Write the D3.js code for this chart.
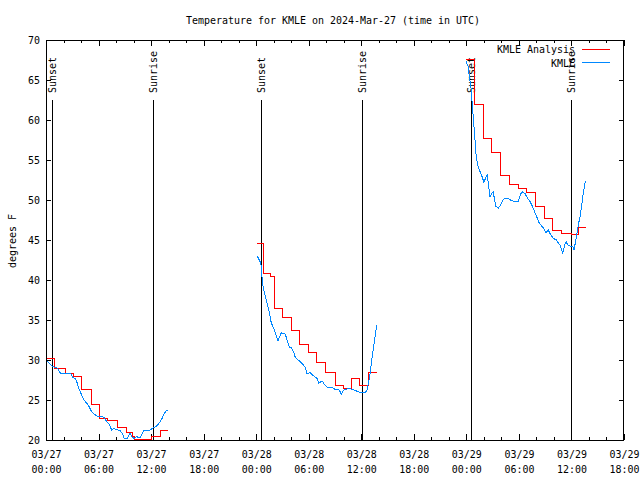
<!DOCTYPE html>
<html><head><meta charset="utf-8">
<script src="https://cdn.jsdelivr.net/npm/d3@7"></script>
<style>html,body{margin:0;padding:0;background:#fff}</style>
</head><body>
<svg id="chart" width="640" height="480"></svg>
<script>
// ---- data (hours after 2024-03-27 00:00 UTC, null = gap) ----
const obsHours = [0.08,0.46,0.72,1.03,1.29,1.68,2.82,3.00,3.31,3.51,3.80,4.08,4.34,4.65,4.91,5.22,5.48,5.79,6.36,6.66,6.93,7.19,7.50,7.76,7.99,8.45,8.71,8.94,9.28,9.59,9.82,10.05,10.36,10.73,11.19,11.88,12.25,12.64,12.90,13.21,13.47,13.70,13.90, null,
 24.13,24.44,24.55,24.66,24.81,25.01,25.20,25.43,25.73,26.00,26.26,26.49,26.75,26.87,27.32,27.58,27.78,28.03,28.28,28.47,29.04,29.61,29.80,30.18,30.57,30.94,31.14,31.52,31.82,32.09,32.66,33.03,33.49,33.72,33.99,34.56,35.32,35.89,36.46,36.65,36.85,37.03,37.22,37.42,37.60,37.77, null,
 47.96,48.22,48.34,48.50,48.61,48.72,48.87,48.99,49.10,49.25,49.48,49.67,49.86,50.01,50.24,50.39,50.50,50.70,50.89,51.08,51.19,51.38,51.65,51.92,52.22,52.41,52.79,53.18,53.55,53.93,54.20,54.43,54.70,54.89,55.27,55.46,55.72,56.03,56.33,56.60,56.79,57.09,57.36,57.55,57.93,58.31,58.50,58.69,58.89,59.00,59.18,59.38,59.57,59.95,60.14,60.29,60.40,60.60,60.78,60.98,61.17,61.35,61.55,61.63];
const obsTempF = [29.9,29.5,29.2,29.1,29.0,28.3,28.3,27.9,27.7,27.3,26.3,25.6,25.0,24.6,24.2,23.5,23.25,23.0,23.0,22.8,22.3,22.0,21.25,21.5,21.3,21.2,20.8,20.2,20.2,20.8,20.4,20.2,20.4,20.3,21.25,21.25,21.5,21.75,22.1,22.6,23.25,23.6,23.75, null,
 43.0,42.3,41.9,40.4,39.0,38.1,37.3,36.3,34.6,34.0,33.1,32.4,33.1,33.4,33.25,32.3,31.6,31.5,31.0,30.3,29.8,29.1,28.3,28.4,28.0,27.7,27.1,27.4,26.9,26.6,26.6,26.3,26.25,25.75,26.25,26.46,26.2,25.9,25.9,26.25,27.3,28.5,30.2,31.7,33.1,34.4, null,
 67.3,66.7,65.4,64.4,62.9,61.25,59.2,57.5,55.8,54.6,53.75,53.3,52.7,52.2,52.9,53.1,52.1,50.4,50.8,51.0,50.2,49.2,48.96,49.4,50.1,50.2,50.2,49.9,49.8,49.8,50.8,51.0,50.8,50.4,49.8,49.4,48.75,47.9,47.1,46.75,46.5,45.9,46.25,45.8,45.2,45.0,44.6,44.4,43.8,43.25,44.2,44.8,44.4,44.2,44.2,43.75,44.4,45.6,46.9,47.9,49.4,50.8,52.1,52.3];

const anaHours = [0.15,0.97,2.17,3.12,4.03,5.14,6.09,6.97,8.14,9.21,9.93,10.16,12.1,13.05,13.9, null,
 24.09,24.86,25.69,26.09,26.98,27.98,29.0,29.92,30.94,31.97,33.0,33.95,34.94,35.85,36.88,37.76, null,
 47.96,48.93,49.93,50.92,51.92,52.92,53.93,54.89,55.89,56.92,57.83,58.88,59.95,60.80,61.66];
const anaTempF = [30.2,29.0,28.3,28.0,26.3,24.4,22.7,22.4,21.6,21.0,20.4,20.1,20.5,21.25,21.25, null,
 44.6,40.8,40.4,36.5,35.3,33.75,32.0,30.9,29.7,28.5,26.8,26.5,27.7,26.8,28.5,28.5, null,
 67.6,61.9,57.7,56.0,53.1,52.0,51.5,51.0,49.25,47.7,46.25,45.8,45.7,46.6,46.6];

const sunHours = [0.72, 12.25, 24.58, 36.12, 48.49, 59.98];
const sunLabels = ["Sunset","Sunrise","Sunset","Sunrise","Sunset","Sunrise"];

const yTicks = [20,25,30,35,40,45,50,55,60,65,70];
const seriesNames = ["KMLE Analysis","KMLE"];
const titleText = "Temperature for KMLE on 2024-Mar-27 (time in UTC)";
const yTitle = "degrees F";

// ---- setup ----
const T0 = Date.UTC(2024,2,27);
const toDate = h => new Date(T0 + h*3600e3);
const L=46, R=624, T=40, B=440;
const FONT = "DejaVu Sans Mono";
const RED = "#ff0000", BLUE = "#0088ff";

const svg = d3.select("#chart");
const x = d3.scaleUtc().domain([toDate(0), toDate(66)]).range([L,R]);
const y = d3.scaleLinear().domain([20,70]).range([B,T]);

const minorTicks = d3.range(0,67,2).map(toDate);
const majorTicks = d3.range(0,67,6).map(toDate);

function styleAxis(g){ g.select(".domain").remove(); g.attr("font-family",FONT).attr("font-size",11); g.selectAll("line").attr("stroke","#000").attr("shape-rendering","crispEdges"); }

// minor ticks
svg.append("g").attr("transform",`translate(0,${B})`).call(d3.axisBottom(x).tickValues(minorTicks).tickSizeInner(-3).tickSizeOuter(0).tickFormat("")).call(styleAxis);
svg.append("g").attr("transform",`translate(0,${T})`).call(d3.axisTop(x).tickValues(minorTicks).tickSizeInner(-3).tickSizeOuter(0).tickFormat("")).call(styleAxis);
// major ticks bottom with labels
const gB = svg.append("g").attr("transform",`translate(0,${B})`)
  .call(d3.axisBottom(x).tickValues(majorTicks).tickSizeInner(-6).tickSizeOuter(0).tickPadding(0).tickFormat(d3.utcFormat("%m/%d")))
  .call(styleAxis);
gB.selectAll(".tick text").attr("y",18).attr("dy",null).attr("fill","#000");
gB.selectAll(".tick").append("text").attr("y",33).attr("fill","#000").text(d=>d3.utcFormat("%H:%M")(d));
svg.append("g").attr("transform",`translate(0,${T})`).call(d3.axisTop(x).tickValues(majorTicks).tickSizeInner(-6).tickSizeOuter(0).tickFormat("")).call(styleAxis);
// y axes
const gL = svg.append("g").attr("transform",`translate(${L},0)`)
  .call(d3.axisLeft(y).tickValues(yTicks).tickSizeInner(-5).tickSizeOuter(0).tickPadding(6)).call(styleAxis);
gL.selectAll(".tick text").attr("fill","#000");
svg.append("g").attr("transform",`translate(${R},0)`)
  .call(d3.axisRight(y).tickValues(yTicks).tickSizeInner(-5).tickSizeOuter(0).tickFormat("")).call(styleAxis);

// border
svg.append("rect").attr("x",L+0.5).attr("y",T+0.5).attr("width",R-L-1).attr("height",B-T)
  .attr("fill","none").attr("stroke","#000").attr("shape-rendering","crispEdges");

// sunrise / sunset
const sun = svg.append("g");
sunHours.forEach((h,i)=>{
  const sx = Math.round(x(toDate(h)))+0.5;
  sun.append("line").attr("x1",sx).attr("x2",sx).attr("y1",100).attr("y2",B)
    .attr("stroke","#000").attr("shape-rendering","crispEdges");
  sun.append("text").attr("transform",`translate(${sx},93) rotate(-90)`)
    .attr("dominant-baseline","central").attr("text-anchor","start")
    .attr("font-family",FONT).attr("font-size",11).text(sunLabels[i]);
});

// series
const obs = obsHours.map((h,i)=>({h, v: obsTempF[i]}));
const ana = anaHours.map((h,i)=>({h, v: anaTempF[i]}));
const lineObs = d3.line().defined(d=>d.h!=null && d.v!=null).x(d=>x(toDate(d.h))).y(d=>y(d.v));
const lineAna = d3.line().defined(d=>d.h!=null && d.v!=null).curve(d3.curveStepAfter).x(d=>x(toDate(d.h))).y(d=>y(d.v));
svg.append("path").datum(ana).attr("d",lineAna).attr("fill","none").attr("stroke",RED).attr("stroke-width",1).attr("shape-rendering","crispEdges");
svg.append("path").datum(obs).attr("d",lineObs).attr("fill","none").attr("stroke",BLUE).attr("stroke-width",1).attr("shape-rendering","crispEdges");

// legend
const leg = svg.append("g").attr("font-family",FONT).attr("font-size",11);
[[RED,53,49.5],[BLUE,66.5,62.5]].forEach(([c,ty,ly],i)=>{
  leg.append("text").attr("x",575).attr("y",ty).attr("text-anchor","end").text(seriesNames[i]);
  leg.append("line").attr("x1",582).attr("x2",610).attr("y1",ly).attr("y2",ly).attr("stroke",c).attr("shape-rendering","crispEdges");
});

// titles
svg.append("text").attr("x",333).attr("y",24).attr("text-anchor","middle")
  .attr("font-family",FONT).attr("font-size",11).text(titleText);
svg.append("text").attr("transform","translate(12,241) rotate(-90)").attr("text-anchor","middle")
  .attr("dominant-baseline","central").attr("font-family",FONT).attr("font-size",11).text(yTitle);

// fit all text to ~6px per character like the original bitmap font
svg.selectAll("text").each(function(){
  const n = this.textContent.length;
  if(n>0) d3.select(this).attr("textLength", n*6).attr("lengthAdjust","spacingAndGlyphs");
});
</script>
</body></html>
